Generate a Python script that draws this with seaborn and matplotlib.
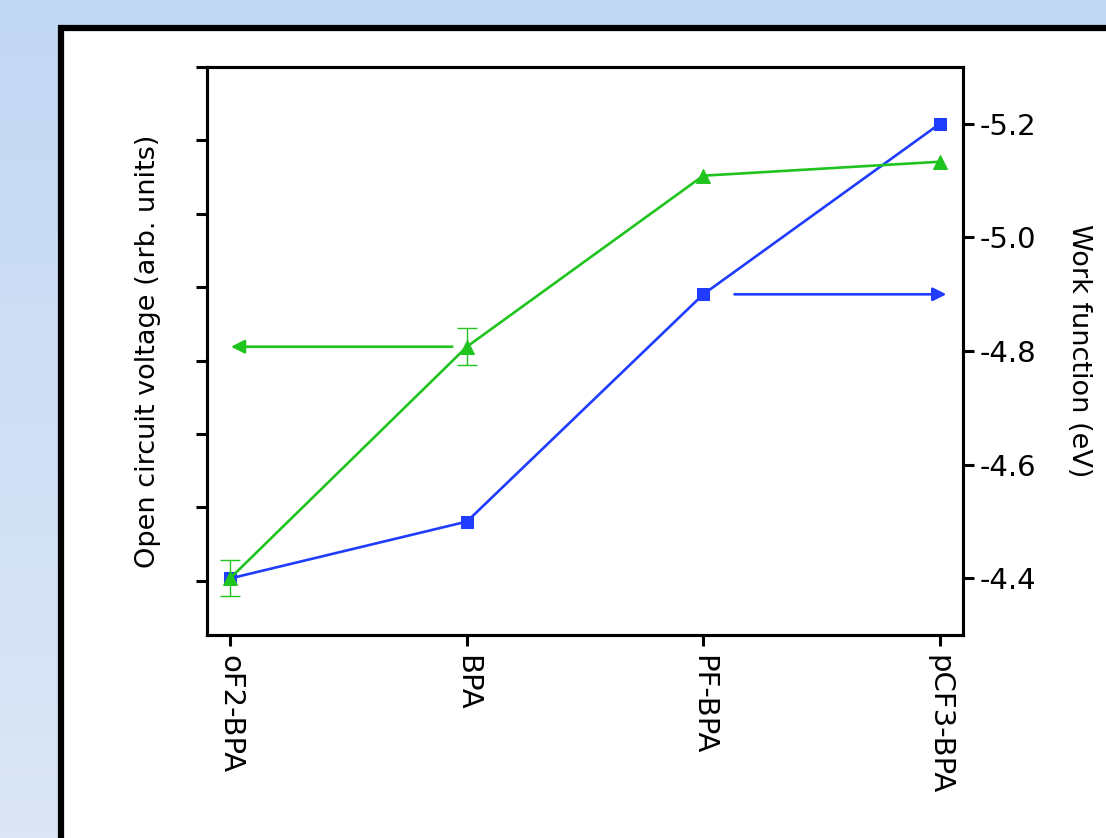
import numpy as np
import pandas as pd
import seaborn as sns
import matplotlib
matplotlib.use('Agg')
import matplotlib.pyplot as plt
from matplotlib.patches import Rectangle

# data
categories = ['oF2-BPA', 'BPA', 'PF-BPA', 'pCF3-BPA']
voc = [0.04, 3.19, 5.52, 5.71]            # open circuit voltage, arb. units
voc_err = [0.25, 0.25, 0.0, 0.0]
work_function = [-4.40, -4.50, -4.90, -5.20]  # eV
wf_ticks = [-5.2, -5.0, -4.8, -4.6, -4.4]
voc_ticks = [0, 1, 2, 3, 4, 5, 6, 7]

green = '#1fc41f'
blue = '#1f3cff'

sns.set_theme(style='ticks')
plt.rcParams['font.family'] = ['DejaVu Sans']
plt.rcParams['axes.edgecolor'] = 'black'
plt.rcParams['axes.labelcolor'] = 'black'
plt.rcParams['xtick.color'] = 'black'
plt.rcParams['ytick.color'] = 'black'

df = pd.DataFrame({'pos': np.arange(len(categories)), 'cat': categories,
                   'voc': voc, 'err': voc_err, 'wf': work_function})

fig = plt.figure(figsize=(11.06, 8.38), dpi=100)

# light blue gradient background with white framed panel
bg = fig.add_axes([0, 0, 1, 1])
bg.set_zorder(-5)
grad = np.linspace(0, 1, 256)[:, None]
top_c = np.array([195, 216, 245]) / 255
bot_c = np.array([220, 230, 244]) / 255
img = top_c[None, None, :] * (1 - grad[:, :, None]) + bot_c[None, None, :] * grad[:, :, None]
bg.imshow(img, aspect='auto', extent=[0, 1, 0, 1], origin='upper')
bg.add_patch(Rectangle((0.0551, -0.1), 1.2, 1.0668, facecolor='white',
                       edgecolor='black', linewidth=4.5))
bg.set_xlim(0, 1)
bg.set_ylim(0, 1)
bg.axis('off')

ax = fig.add_axes([0.187, 0.242, 0.684, 0.678])
ax2 = ax.twinx()

# work function (right axis, blue)
sns.lineplot(data=df, x='pos', y='wf', ax=ax2, color=blue, marker='s',
             markersize=9, markeredgecolor=blue, linewidth=1.9)
ax2.annotate('', xy=(3.04, -4.9), xytext=(2.12, -4.9),
             arrowprops=dict(arrowstyle='-|>', color=blue, lw=1.9, mutation_scale=20))

# open circuit voltage (left axis, green)
sns.lineplot(data=df, x='pos', y='voc', ax=ax, color=green, marker='^',
             markersize=10, markeredgecolor=green, linewidth=1.9)
eb = df[df['err'] > 0]
ax.errorbar(eb['pos'], eb['voc'], yerr=eb['err'], fmt='none', ecolor=green,
            elinewidth=1, capsize=7, capthick=1)
ax.annotate('', xy=(-0.01, 3.19), xytext=(0.95, 3.19),
            arrowprops=dict(arrowstyle='-|>', color=green, lw=1.9, mutation_scale=20))

ax.set_zorder(ax2.get_zorder() + 1)
ax.patch.set_visible(False)

ax.set_xlim(-0.1, 3.1)
ax.set_ylim(-0.74, 7.0)
ax2.set_ylim(-4.30, -5.30)

ax.set_xticks(df['pos'])
ax.set_xticklabels(categories, rotation=270, fontsize=21, va='top', ha='center')
ax.set_yticks(voc_ticks)
ax.set_yticklabels([])
ax2.set_yticks(wf_ticks)
ax2.set_yticklabels([f'{t:.1f}' for t in wf_ticks], fontsize=21)

ax.set_xlabel('')
ax.set_ylabel('Open circuit voltage (arb. units)', fontsize=19.5, labelpad=19)
ax2.set_ylabel('Work function (eV)', fontsize=19.5, rotation=270, labelpad=40)

for a in (ax, ax2):
    for s in a.spines.values():
        s.set_linewidth(2.2)
        s.set_color('black')
ax.tick_params(axis='both', direction='out', length=8, width=2.2, pad=6)
ax2.tick_params(axis='y', direction='out', length=8, width=2.2, pad=4)

fig.savefig('out.png', dpi=100)
